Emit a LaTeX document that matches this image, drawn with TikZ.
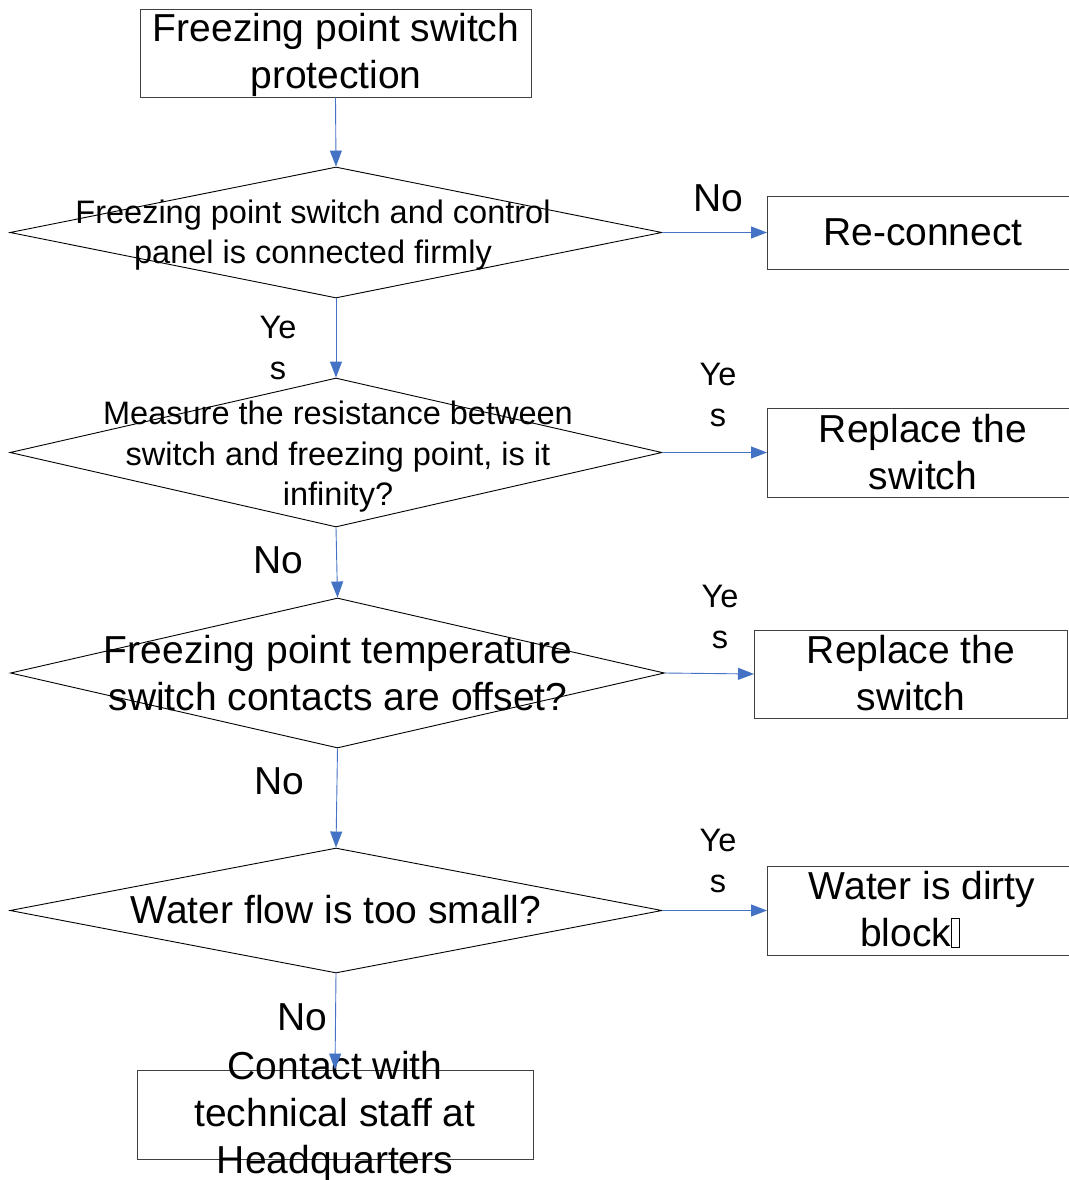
\documentclass[tikz,border=0pt]{standalone}
\usepackage{fontspec}
\setmainfont{Liberation Sans}
\usetikzlibrary{shapes.geometric,arrows.meta}

\definecolor{flowblue}{RGB}{68,114,196}
\newcommand{\tofubox}{{\setlength{\fboxsep}{0pt}\setlength{\fboxrule}{0.9pt}\fbox{\rule{0pt}{28pt}\hspace{7pt}}}}

\tikzset{
  procbox/.style={draw=black!75, rectangle, line width=0.9pt, inner sep=0pt},
  decbox/.style={draw=black, diamond, line width=0.9pt, inner sep=0pt},
  bigtxt/.style={font=\fontsize{39}{47}\selectfont, align=center, inner sep=0pt},
  smalltxt/.style={font=\fontsize{32.5}{40.5}\selectfont, align=center, inner sep=0pt},
  flow/.style={draw=flowblue, line width=0.9pt, -{Triangle[length=16pt,width=12pt]}},
}

\begin{document}
\begin{tikzpicture}[x=1pt,y=-1pt]
  \useasboundingbox (0,0) rectangle (1068,1180);

  %start
  \node[procbox, minimum width=391pt, minimum height=88pt] (start) at (335.5,53) {};
  \node[bigtxt] (startT) at (336,55) {Freezing point switch\\protection};

  %decisions
  \node[decbox, minimum width=652pt, minimum height=131pt] (d1) at (336,232.5) {};
  \node[decbox, minimum width=652pt, minimum height=149pt] (d2) at (336,452.5) {};
  \node[decbox, minimum width=654pt, minimum height=150pt] (d3) at (337.5,673) {};
  \node[decbox, minimum width=652pt, minimum height=125pt] (d4) at (336,910.5) {};
  \node[smalltxt] (d1T) at (313,235) {Freezing point switch and control\\panel is connected firmly};
  \node[smalltxt] (d2T) at (338,457) {Measure the resistance between\\switch and freezing point, is it\\infinity?};
  \node[bigtxt] (d3T) at (338,673) {Freezing point temperature\\switch contacts are offset?};
  \node[bigtxt] (d4T) at (336,910) {Water flow is too small?};

  %actions
  \node[procbox, minimum width=320pt, minimum height=73pt, anchor=west] (a1) at (767,232.5) {};
  \node[procbox, minimum width=320pt, minimum height=89pt, anchor=west] (a2) at (767,452.5) {};
  \node[procbox, minimum width=313pt, minimum height=88pt, anchor=west] (a3) at (754,674) {};
  \node[procbox, minimum width=320pt, minimum height=89pt, anchor=west] (a4) at (767,910.5) {};
  \node[procbox, minimum width=396pt, minimum height=89pt] (a5) at (335,1114.5) {};
  \node[bigtxt] (a1T) at (923,232) {Re-connect};
  \node[bigtxt] (a2T) at (923,452) {Replace the\\switch};
  \node[bigtxt] (a3T) at (911,673.5) {Replace the\\switch};
  \node[bigtxt] (a4T) at (922,909.5) {Water is dirty\\block\tofubox\hspace*{24pt}};
  \node[bigtxt] (a5T) at (335,1116) {Contact with\\technical staff at\\Headquarters};

  %flow
  \draw[flow] (start.south) -- (d1.north);
  \draw[flow] (d1.south) -- (d2.north);
  \draw[flow] (d2.south) -- (d3.north);
  \draw[flow] (d3.south) -- (d4.north);
  \draw[flow] (d4.south) -- (a5.north);
  \draw[flow] (d1.east) -- (a1.west);
  \draw[flow] (d2.east) -- (a2.west);
  \draw[flow] (d3.east) -- (a3.west);
  \draw[flow] (d4.east) -- (a4.west);

  %labels
  \node[bigtxt] (n1) at (718,198) {No};
  \node[smalltxt] (y1) at (278,348) {Ye\\s};
  \node[smalltxt] (y2) at (718,395) {Ye\\s};
  \node[bigtxt] (n2) at (278,560) {No};
  \node[smalltxt] (y3) at (720,617) {Ye\\s};
  \node[bigtxt] (n3) at (279,781) {No};
  \node[smalltxt] (y4) at (718,861) {Ye\\s};
  \node[bigtxt] (n4) at (302.5,1017) {No};
\end{tikzpicture}
\end{document}
